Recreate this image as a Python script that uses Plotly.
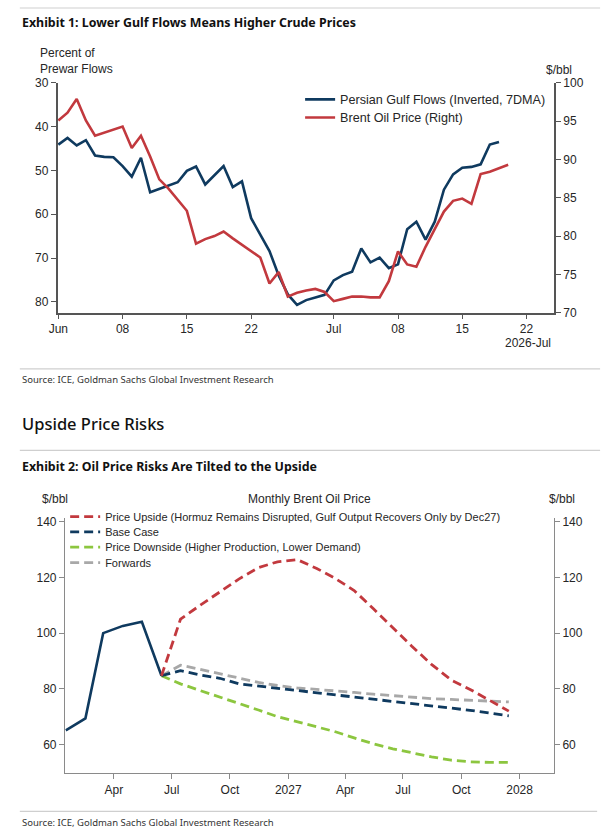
import plotly.graph_objects as go
import pandas as pd

W, H = 606, 839


def px(x):
    return x / W


def py(y):
    return 1 - y / H


# ---------------- Exhibit 1 data (daily, from 2026-06-01) ----------------
gulf_flows = [44.1, 42.6, 44.3, 43.1, 46.6, 46.9, 47.0, 49.0, 51.4, 47.1,
              55.0, 54.2, 53.5, 52.7, 50.1, 49.1, 53.2, 51.2, 49.0, 53.8,
              52.5, 60.9, 64.7, 68.4, 74.0, 78.3, 80.7, 79.6, 79.0, 78.4,
              75.1, 73.9, 73.1, 67.8, 71.0, 69.9, 72.3, 71.4, 63.4, 61.7,
              65.8, 61.7, 54.4, 50.9, 49.4, 49.2, 48.6, 44.1, 43.5]
brent_daily = [95.1, 96.1, 97.9, 95.1, 93.1, 93.5, 93.8, 94.3, 91.5, 93.1,
               90.4, 87.4, 86.2, 84.7, 83.3, 79.0, 79.6, 80.0, 80.6, 79.7,
               78.9, 78.0, 77.2, 73.8, 75.3, 72.1, 72.6, 72.9, 73.1, 72.7,
               71.5, 71.8, 72.1, 72.1, 72.0, 72.0, 74.1, 78.0, 76.3, 76.0,
               78.6, 80.9, 83.2, 84.6, 84.9, 84.2, 88.1, 88.4, 88.8, 89.3]
flow_dates = pd.date_range("2026-06-01", periods=len(gulf_flows), freq="D")
brent_dates = pd.date_range("2026-06-01", periods=len(brent_daily), freq="D")

ex1_tickvals = ["2026-06-01", "2026-06-08", "2026-06-15", "2026-06-22",
                "2026-07-01", "2026-07-08", "2026-07-15", "2026-07-22"]
ex1_ticktext = ["Jun", "08", "15", "22", "Jul", "08", "15", "22"]

# ---------------- Exhibit 2 data (monthly) ----------------
hist_months = ["2026-01-15", "2026-02-15", "2026-03-15", "2026-04-15",
               "2026-05-15", "2026-06-15"]
hist_price = [65.1, 69.4, 100.0, 102.6, 104.1, 84.7]

fc_months = [d.strftime("%Y-%m-15") for d in
             pd.date_range("2026-06-01", "2027-12-01", freq="MS")]
upside = [84.7, 105.0, 110.0, 114.7, 119.4, 123.5, 125.6, 126.4, 123.2, 119.8,
          115.3, 108.8, 101.8, 95.3, 88.8, 83.2, 79.8, 75.9, 72.0]
base_case = [84.7, 86.5, 85.0, 83.8, 81.8, 81.0, 80.3, 79.5, 78.6, 77.9,
             77.1, 76.3, 75.6, 74.7, 73.9, 73.2, 72.3, 71.3, 70.3]
downside = [84.7, 81.8, 79.4, 77.1, 74.7, 72.4, 70.0, 68.2, 66.6, 64.7,
            62.4, 60.3, 58.5, 57.0, 55.6, 54.4, 53.8, 53.6, 53.6]
forwards = [84.7, 88.5, 87.0, 85.5, 83.8, 82.3, 81.2, 80.3, 79.8, 79.4,
            78.7, 78.1, 77.5, 77.0, 76.5, 76.2, 75.9, 75.6, 75.3]

ex2_tickvals = ["2026-04-01", "2026-07-01", "2026-10-01", "2027-01-01",
                "2027-04-01", "2027-07-01", "2027-10-01", "2028-01-01"]
ex2_ticktext = ["Apr", "Jul", "Oct", "2027", "Apr", "Jul", "Oct", "2028"]

NAVY = "#0f3a5f"
RED = "#c2393e"
GREEN = "#8cc63f"
GRAY = "#a8a8a8"
CHART_FONT = "Liberation Sans, Arial, sans-serif"
HEAD_FONT = "Noto Sans, Open Sans, sans-serif"
TXT = "#262626"

fig = go.Figure()

# Exhibit 1 traces
fig.add_trace(go.Scatter(x=flow_dates, y=gulf_flows, mode="lines",
                         name="Persian Gulf Flows (Inverted, 7DMA)",
                         line=dict(color=NAVY, width=2.6),
                         xaxis="x", yaxis="y", legend="legend"))
fig.add_trace(go.Scatter(x=brent_dates, y=brent_daily, mode="lines",
                         name="Brent Oil Price (Right)",
                         line=dict(color=RED, width=2.6),
                         xaxis="x", yaxis="y2", legend="legend2"))

# Exhibit 2 traces
dash = "9px,5px"
fig.add_trace(go.Scatter(x=hist_months, y=hist_price, mode="lines",
                         name="History", showlegend=False,
                         line=dict(color=NAVY, width=2.6),
                         xaxis="x2", yaxis="y3"))
fig.add_trace(go.Scatter(x=fc_months, y=forwards, mode="lines",
                         name="Forwards",
                         line=dict(color=GRAY, width=2.8, dash=dash),
                         xaxis="x2", yaxis="y3", legend="legend6"))
fig.add_trace(go.Scatter(x=fc_months, y=downside, mode="lines",
                         name="Price Downside (Higher Production, Lower Demand)",
                         line=dict(color=GREEN, width=2.8, dash=dash),
                         xaxis="x2", yaxis="y3", legend="legend5"))
fig.add_trace(go.Scatter(x=fc_months, y=base_case, mode="lines",
                         name="Base Case",
                         line=dict(color=NAVY, width=2.8, dash=dash),
                         xaxis="x2", yaxis="y3", legend="legend4"))
fig.add_trace(go.Scatter(x=fc_months, y=upside, mode="lines",
                         name="Price Upside (Hormuz Remains Disrupted, Gulf Output Recovers Only by Dec27)",
                         line=dict(color=RED, width=2.8, dash=dash),
                         xaxis="x2", yaxis="y3", legend="legend3"))
# invisible carrier so the right-hand axis of Exhibit 2 is drawn
fig.add_trace(go.Scatter(x=fc_months, y=upside, mode="lines", showlegend=False,
                         hoverinfo="skip", opacity=0, line=dict(width=0),
                         xaxis="x2", yaxis="y4"))

axis_common = dict(showgrid=False, zeroline=False, showline=True,
                   ticks="outside", tickfont=dict(family=CHART_FONT, size=12, color=TXT))

top_line = dict(linecolor="#555555", linewidth=1.6, tickcolor="#555555", tickwidth=1.2)
bot_line = dict(linecolor="#8a8a8a", linewidth=1.4, tickcolor="#8a8a8a", tickwidth=1.2)


def leg(x, y, size):
    return dict(x=px(x), y=py(y), xanchor="left", yanchor="middle",
                bgcolor="rgba(0,0,0,0)",
                font=dict(family=CHART_FONT, size=size, color=TXT))


fig.update_layout(
    width=W, height=H,
    margin=dict(l=0, r=0, t=0, b=0),
    paper_bgcolor="white", plot_bgcolor="white",
    font=dict(family=CHART_FONT, color=TXT),
    xaxis=dict(domain=[px(49.3), px(553.3)], anchor="y", type="date",
               range=["2026-05-31 22:00", "2026-07-25"],
               tickmode="array", tickvals=ex1_tickvals, ticktext=ex1_ticktext,
               ticklen=4, **axis_common, **top_line),
    yaxis=dict(domain=[py(311), py(77)], anchor="x",
               range=[82.5, 29.98], tickvals=[30, 40, 50, 60, 70, 80],
               ticklen=5, **axis_common, **top_line),
    yaxis2=dict(overlaying="y", side="right", anchor="x",
                range=[69.98, 100.02], tickvals=[70, 75, 80, 85, 90, 95, 100],
                ticklen=5, **axis_common, **top_line),
    xaxis2=dict(domain=[px(57), px(553)], anchor="y3", type="date",
                range=["2026-01-14", "2028-02-24"],
                tickmode="array", tickvals=ex2_tickvals, ticktext=ex2_ticktext,
                ticklen=5, **axis_common, **bot_line),
    yaxis3=dict(domain=[py(779), py(520)], anchor="x2",
                range=[49.8, 141.2], tickvals=[60, 80, 100, 120, 140],
                ticklen=5, **axis_common, **bot_line),
    yaxis4=dict(overlaying="y3", side="right", anchor="x2",
                range=[49.8, 141.2], tickvals=[60, 80, 100, 120, 140],
                ticklen=5, **axis_common, **bot_line),
    legend=leg(295.5, 94.3, 12.6),
    legend2=leg(295.5, 112.7, 12.6),
    legend3=leg(57, 518.3, 11),
    legend4=leg(57, 533.8, 11),
    legend5=leg(57, 549.3, 11),
    legend6=leg(57, 565, 11),
)

annotations = []


def text(x, y, s, size, family=CHART_FONT, color=TXT, xanchor="left", weight="normal"):
    annotations.append(dict(x=px(x), y=py(y), xref="paper", yref="paper",
                            text=s, showarrow=False, xanchor=xanchor, yanchor="middle",
                            align=xanchor if xanchor != "center" else "center",
                            font=dict(family=family, size=size, color=color, weight=weight)))


text(11, 16, "Exhibit 1: Lower Gulf Flows Means Higher Crude Prices", 12.4,
     family=HEAD_FONT, color="#111111", weight="bold")
text(29, 55, "Percent of<br>Prewar Flows", 12)
text(558, 64, "$/bbl", 12, xanchor="center")
text(552, 342, "2026-Jul", 12, xanchor="right")
text(11, 379, "Source: ICE, Goldman Sachs Global Investment Research", 9.5,
     family=HEAD_FONT, color="#333333")
text(11, 424, "Upside Price Risks", 16.5, family=HEAD_FONT, color="#111111", weight=500)
text(11, 467, "Exhibit 2: Oil Price Risks Are Tilted to the Upside", 12.4,
     family=HEAD_FONT, color="#111111", weight="bold")
text(47, 500, "$/bbl", 12, xanchor="center")
text(305, 500, "Monthly Brent Oil Price", 12, xanchor="center")
text(561, 500, "$/bbl", 12, xanchor="center")
text(11, 829, "Source: ICE, Goldman Sachs Global Investment Research", 9.5,
     family=HEAD_FONT, color="#333333")

fig.update_layout(annotations=annotations)

shapes = []
for yy, x1 in [(1, 600), (368, 600), (451, 600), (818, 597)]:
    shapes.append(dict(type="line", xref="paper", yref="paper",
                       x0=px(11), x1=px(x1), y0=py(yy), y1=py(yy),
                       line=dict(color="#cfcfcf", width=1.2)))
fig.update_layout(shapes=shapes)

fig.write_html("out.html")
